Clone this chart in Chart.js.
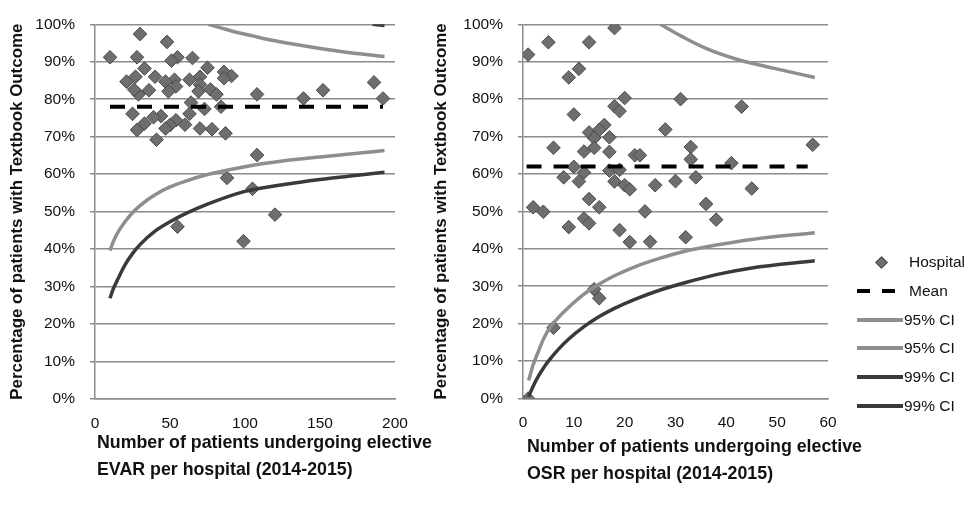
<!DOCTYPE html>
<html><head><meta charset="utf-8">
<script src="https://cdn.jsdelivr.net/npm/chart.js@4/dist/chart.umd.min.js"></script>
<style>
html,body{margin:0;padding:0;background:#fff;width:974px;height:516px;overflow:hidden;}
#w1{position:absolute;left:0;top:0;width:445px;height:516px;}
#w2{position:absolute;left:430px;top:0;width:544px;height:516px;}
#legend{position:absolute;left:0;top:0;width:974px;height:516px;pointer-events:none;font-family:'Liberation Sans',Arial,sans-serif;font-size:15.5px;color:#111;}
.lt{position:absolute;line-height:18px;white-space:nowrap;}
.sym{position:absolute;}
</style>
</head><body>
<div id="w1"><canvas id="c1" width="445" height="516"></canvas></div>
<div id="w2"><canvas id="c2" width="544" height="516"></canvas></div>
<div id="legend"></div>
<script>
// ---- EVAR (left) ----
const evarN   = [30,48,10,28,55,65,51,33,75,40,27,86,91,70,86,21,53,47,63,54,36,70,77,49,29,26,81,69,108,186,152,139,192,64,73,84,25,63,44,39,54,33,50,60,47,28,70,78,87,41,108,88,105,55,99,120];
const evarPct = [97.4,95.3,91.2,91.2,91.2,91.0,90.3,88.2,88.4,86.0,86.0,87.3,86.2,86.0,85.6,84.7,85.2,84.7,85.2,83.4,82.4,83.9,82.6,82.1,81.3,82.6,81.3,82.1,81.3,84.5,82.4,80.2,80.2,79.1,77.4,78.0,76.1,76.1,75.5,75.2,74.4,73.5,73.1,73.2,72.2,71.8,72.2,72.0,70.9,69.2,65.1,59.0,56.1,46.0,42.1,49.2];
const evarMeanN = [10,192];
const evarMeanPct = [78,78];
const evar95LoN   = [10,12,15,20,25,30,40,50,60,75,100,125,150,175,193];
const evar95LoPct = [39.6,41.8,44.3,47.3,49.7,51.6,54.5,56.6,58.1,59.9,62.0,63.5,64.6,65.6,66.3];
const evar95HiN   = [75.5,85,95,105,120,140,165,193];
const evar95HiPct = [100,98.9,97.8,96.9,95.6,94.2,92.7,91.4];
const evar99LoN   = [10,12,15,20,25,30,40,50,60,75,100,125,150,175,193];
const evar99LoPct = [26.9,29.2,31.8,35.8,38.8,41.2,44.8,47.3,49.4,52.0,55.4,57.2,58.6,59.7,60.5];
const evar99HiN   = [185,193];
const evar99HiPct = [100,99.7];
const evarTicksX  = [0,50,100,150,200];

// ---- OSR (right) ----
const osrN   = [1,5,13,18,9,11,20,18,19,31,43,10,28,16,13,15,17,14,6,12,14,17,33,57,22,23,33,41,10,12,8,11,17,19,18,20,21,26,30,34,45,2,4,13,15,12,13,9,24,36,38,19,21,25,32,14,15,6,1];
const osrPct = [91.9,95.2,95.2,99.0,85.8,88.1,80.3,78.1,76.8,80.0,78.0,75.9,71.9,73.1,71.1,71.8,69.8,69.6,67.0,66.0,67.0,65.9,67.2,67.8,65.0,65.0,63.9,62.9,61.9,60.4,59.1,58.0,60.9,61.1,58.0,57.0,55.9,57.0,58.1,59.1,56.1,51.1,49.9,53.3,51.1,48.1,46.8,45.8,50.0,52.0,47.8,45.0,41.8,41.9,43.1,29.2,26.8,18.9,0.0];
const osrMeanN = [0.7,56];
const osrMeanPct = [62,62];
const osr95LoN   = [1.1,2,3,4,5,7,9,12,15,18,22,27,32,38,45,57.4];
const osr95LoPct = [4.8,9.0,12.5,15.8,18.3,21.7,24.4,27.9,30.6,32.8,35.2,37.5,39.4,41.0,42.5,44.3];
const osr95HiN   = [27,31.6,36.1,42.7,49.2,57.4];
const osr95HiPct = [100,96.5,93.5,90.4,88.3,85.8];
const osr99LoN   = [1.1,2,3,4,5,7,9,12,15,18,22,27,32,38,45,57.4];
const osr99LoPct = [0.5,3.3,5.9,8.1,10.0,13.2,15.9,19.2,21.9,24.1,26.5,29.0,31.0,33.1,34.9,36.8];
const osrTicksX  = [0,10,20,30,40,50,60];

const pctTicks = [0,10,20,30,40,50,60,70,80,90,100];
const yTitle = 'Percentage of patients with Textbook Outcome';
const evarXTitle = ['Number of patients undergoing elective','EVAR per hospital (2014-2015)'];
const osrXTitle  = ['Number of patients undergoing elective','OSR per hospital (2014-2015)'];
const legendLabels = ['Hospital','Mean','95% CI','95% CI','99% CI','99% CI'];

const FONT = "'Liberation Sans', Arial, sans-serif";
const TXT = '#111111';
const GRID = '#8c8c8c';
const C_PT = '#6e6e6e', C_PTB = '#4a4a4a', C95 = '#8e8e8e', C99 = '#3a3a3a';

const zip = (xs, ys) => xs.map((x, i) => ({x: x, y: ys[i]}));

// x-axis title drawn as canvas text without Chart.js's maxWidth squeeze
const xTitleLines = {
  id: 'xTitleLines',
  afterDraw(chart, args, opts) {
    const {ctx, chartArea} = chart;
    ctx.save();
    ctx.font = `bold ${opts.size}px ${FONT}`;
    ctx.fillStyle = TXT;
    ctx.textAlign = 'left';
    ctx.textBaseline = 'middle';
    opts.lines.forEach((t, i) => ctx.fillText(t, chartArea.left + opts.dx, chartArea.bottom + opts.dy + i * opts.lh));
    ctx.restore();
  }
};

function lineDs(label, xs, ys, color, dash) {
  return {label, data: zip(xs, ys), showLine: true, borderColor: color, backgroundColor: color,
    borderWidth: dash ? 4 : 3.5, borderDash: dash || [], pointRadius: 0, pointHoverRadius: 0,
    cubicInterpolationMode: 'monotone', order: 0, borderCapStyle: 'butt'};
}

function build(canvasId, o) {
  const datasets = [
    {label: 'Hospital', data: zip(o.n, o.pct), pointStyle: 'rectRot', pointRadius: 6.8, pointHoverRadius: 6.8,
     backgroundColor: C_PT, borderColor: C_PTB, borderWidth: 1, showLine: false, order: 1},
    lineDs('Mean', o.meanN, o.meanPct, '#000000', [15, 12]),
    lineDs('95% CI', o.lo95N, o.lo95P, C95),
    lineDs('95% CI', o.hi95N, o.hi95P, C95),
    lineDs('99% CI', o.lo99N, o.lo99P, C99),
    lineDs('99% CI', o.hi99N, o.hi99P, C99)
  ];
  return new Chart(document.getElementById(canvasId), {
    type: 'scatter',
    data: {datasets},
    plugins: [xTitleLines],
    options: {
      responsive: false, animation: false, events: [],
      layout: {padding: {left: 0, top: o.top, right: o.padRight, bottom: 0}},
      plugins: {
        legend: {display: false}, tooltip: {enabled: false},
        xTitleLines: {lines: o.xTitle, size: 17.8, lh: 27, dx: o.xTitleDx, dy: o.xTitleDy}
      },
      scales: {
        x: {
          type: 'linear', min: o.xTicks[0], max: o.xTicks[o.xTicks.length - 1],
          afterBuildTicks: s => { s.ticks = o.xTicks.map(v => ({value: v})); },
          afterFit: s => { s.height = 516 - o.bottom; },
          grid: {display: false, drawTicks: false},
          border: {display: true, color: GRID, width: 1.5},
          ticks: {font: {family: FONT, size: 15.5}, color: TXT, padding: 15, maxRotation: 0, autoSkip: false},
          title: {display: false}
        },
        y: {
          min: 0, max: 100,
          afterBuildTicks: s => { s.ticks = pctTicks.map(v => ({value: v})); },
          afterFit: s => { s.width = o.yWidth; },
          grid: {color: GRID, lineWidth: 1.5, drawTicks: true, tickLength: 5},
          border: {display: true, color: GRID, width: 1.5},
          ticks: {font: {family: FONT, size: 15.5}, color: TXT, padding: 15, callback: v => v + '%'},
          title: {display: true, text: yTitle, color: TXT,
                  font: {family: FONT, size: 16.9, weight: 'bold', lineHeight: 1.2},
                  padding: {top: o.yTitlePadT, bottom: 0}}
        }
      }
    }
  });
}

build('c1', {n: evarN, pct: evarPct, meanN: evarMeanN, meanPct: evarMeanPct,
  lo95N: evar95LoN, lo95P: evar95LoPct, hi95N: evar95HiN, hi95P: evar95HiPct,
  lo99N: evar99LoN, lo99P: evar99LoPct, hi99N: evar99HiN, hi99P: evar99HiPct,
  xTicks: evarTicksX, xTitle: evarXTitle, top: 13, bottom: 399, padRight: 50, yWidth: 95,
  xTitleDx: 2, xTitleDy: 44, yTitlePadT: 7.5});

build('c2', {n: osrN, pct: osrPct, meanN: osrMeanN, meanPct: osrMeanPct,
  lo95N: osr95LoN, lo95P: osr95LoPct, hi95N: osr95HiN, hi95P: osr95HiPct,
  lo99N: osr99LoN, lo99P: osr99LoPct, hi99N: [], hi99P: [],
  xTicks: osrTicksX, xTitle: osrXTitle, top: 15, bottom: 398.5, padRight: 146, yWidth: 93,
  xTitleDx: 4, xTitleDy: 48.5, yTitlePadT: 1.5});

// ---- legend (HTML) ----
const lg = document.getElementById('legend');
const rowY = [262, 291, 320, 348, 377, 406];
legendLabels.forEach((txt, i) => {
  const y = rowY[i];
  if (i === 0) {
    const d = document.createElement('div');
    d.className = 'sym';
    d.style.cssText = `left:${881 - 4.5}px;top:${y - 4.5}px;width:7px;height:7px;background:${C_PT};border:1px solid ${C_PTB};transform:rotate(45deg);`;
    lg.appendChild(d);
  } else if (i === 1) {
    [[857, 13], [882, 13]].forEach(([x, w]) => {
      const d = document.createElement('div');
      d.className = 'sym';
      d.style.cssText = `left:${x}px;top:${y - 2}px;width:${w}px;height:4px;background:#000;`;
      lg.appendChild(d);
    });
  } else {
    const d = document.createElement('div');
    d.className = 'sym';
    d.style.cssText = `left:857px;top:${y - 2}px;width:46px;height:4px;background:${i < 4 ? C95 : C99};`;
    lg.appendChild(d);
  }
  const t = document.createElement('div');
  t.className = 'lt';
  t.textContent = txt;
  t.style.left = (i < 2 ? 909 : 904) + 'px';
  t.style.top = (y - 9) + 'px';
  lg.appendChild(t);
});
</script>
</body></html>
